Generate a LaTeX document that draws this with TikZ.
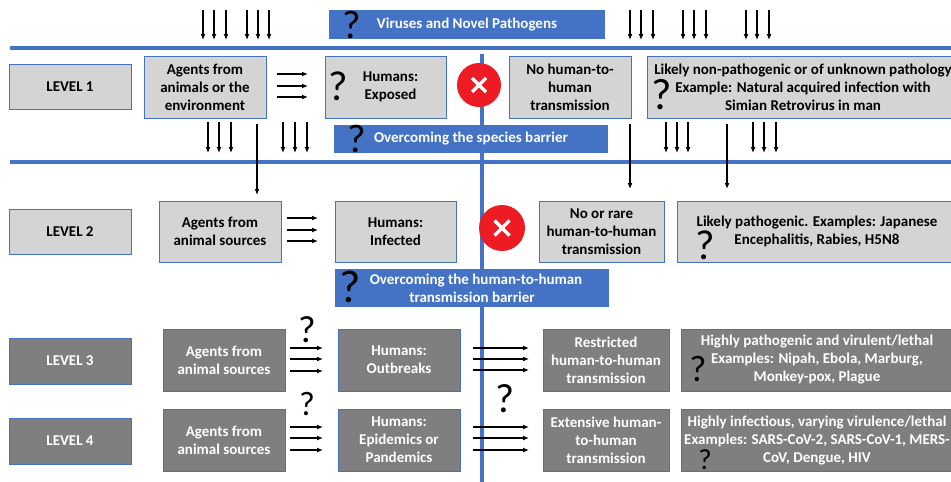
\documentclass[tikz,border=0pt]{standalone}
\usepackage{fontspec}
\setmainfont{Carlito}
\usetikzlibrary{arrows.meta}
\definecolor{bl}{HTML}{4472C4}
\definecolor{lg}{HTML}{D4D4D4}
\definecolor{dg}{HTML}{7F7F7F}
\definecolor{rd}{HTML}{ED1C24}
\begin{document}
\begin{tikzpicture}[x=1pt,y=-1pt,
  box/.style={draw=bl, line width=0.8pt, inner sep=0pt, align=center,
    font=\bfseries\fontsize{15}{18}\selectfont},
  lbox/.style={box, fill=lg, text=black},
  dbox/.style={box, fill=dg, text=white},
  bbox/.style={fill=bl, inner sep=0pt, align=center, text=white,
    font=\bfseries\fontsize{15}{18}\selectfont},
  qm/.style={inner sep=0pt, text=black, font=\fontsize{#1}{#1}\selectfont},
  arr/.style={-{Latex[length=6pt,width=5pt]}, line width=1.3pt},
  band/.style={draw=bl, line width=4pt},
  nox/.style={circle, fill=rd, minimum size=#1, inner sep=0pt},
  xline/.style={draw=white, line width=3.5pt}]
\clip (0,0) rectangle (951,482);
\fill[white] (0,0) rectangle (951,482);
% bands
\coordinate (b1l) at (10,47.5); \coordinate (b1r) at (960,47.5);
\coordinate (b2l) at (10,162); \coordinate (b2r) at (960,162);
\coordinate (vt) at (482,54); \coordinate (vb) at (482,490);
\draw[band] (b1l) -- (b1r);
\draw[band] (b2l) -- (b2r);
\draw[draw=bl, line width=3.5pt] (vt) -- (vb);
% header boxes
\node[bbox, minimum width=276, minimum height=29] (V) at (467,24.5) {Viruses and Novel Pathogens};
\node[qm=40] (qV) at (352,24.5) {?};
\node[bbox, minimum width=274, minimum height=28] (S) at (471,139) {Overcoming the species barrier};
\node[qm=40] (qS) at (357,139) {?};
\node[bbox, minimum width=274, minimum height=38] (T) at (472,288) {\hspace*{8pt}Overcoming the human-to-human\\transmission barrier};
\node[qm=46] (qT) at (350,287) {?};
% level labels
\node[lbox, minimum width=122, minimum height=45] (L1) at (70,86.5) {LEVEL 1};
\node[lbox, minimum width=122, minimum height=45] (L2) at (70,231.5) {LEVEL 2};
\node[dbox, minimum width=122, minimum height=46] (L3) at (70,361) {LEVEL 3};
\node[dbox, minimum width=122, minimum height=46] (L4) at (70,441) {LEVEL 4};
% level 1
\node[lbox, minimum width=122, minimum height=62] (A1) at (205,87) {Agents from\\animals or the\\environment};
\node[lbox, minimum width=121, minimum height=62] (H1) at (385.5,87) {\hspace*{10pt}Humans:\\\hspace*{10pt}Exposed};
\node[qm=42] (qH1) at (338,86) {?};
\node[lbox, minimum width=122, minimum height=62] (N1) at (570,87) {No human-to-\\human\\transmission};
\node[lbox, minimum width=312, minimum height=62] (R1) at (803,87) {Likely non-pathogenic or of unknown pathology\\Example: Natural acquired infection with\\Simian Retrovirus in man};
\node[qm=44] (qR1) at (662,94.5) {?};
% level 2
\node[lbox, minimum width=122, minimum height=61] (A2) at (220,231.5) {Agents from\\animal sources};
\node[lbox, minimum width=121, minimum height=61] (H2) at (395.5,231.5) {Humans:\\Infected};
\node[lbox, minimum width=125, minimum height=61] (N2) at (601.5,231.5) {No or rare\\human-to-human\\transmission};
\node[lbox, minimum width=280, minimum height=61] (R2) at (817,231.5) {Likely pathogenic. Examples: Japanese\\Encephalitis, Rabies, H5N8};
\node[qm=42] (qR2) at (705,245) {?};
% level 3
\node[dbox, minimum width=122, minimum height=62] (A3) at (224,360) {Agents from\\animal sources};
\node[dbox, minimum width=122, minimum height=62] (H3) at (399,360) {Humans:\\Outbreaks};
\node[dbox, minimum width=126, minimum height=62] (N3) at (606,360) {Restricted\\human-to-human\\transmission};
\node[dbox, minimum width=272, minimum height=62] (R3) at (817,360) {Highly pathogenic and virulent/lethal\\Examples: Nipah, Ebola, Marburg,\\Monkey-pox, Plague};
\node[qm=37] (qR3) at (698,369) {?};
\node[qm=38] (qA3) at (307,329.5) {?};
% level 4
\node[dbox, minimum width=122, minimum height=62] (A4) at (224,440) {Agents from\\animal sources};
\node[dbox, minimum width=122, minimum height=62] (H4) at (399,440) {Humans:\\Epidemics or\\Pandemics};
\node[dbox, minimum width=126, minimum height=62] (N4) at (606,440) {Extensive human-\\to-human\\transmission};
\node[dbox, minimum width=272, minimum height=62] (R4) at (817,440) {Highly infectious, varying virulence/lethal\\Examples: SARS-CoV-2, SARS-CoV-1, MERS-\\CoV, Dengue, HIV};
\node[qm=29] (qR4) at (705,459.5) {?};
\node[qm=34] (qA4) at (307,404) {?};
\node[qm=41] (qM) at (505,398.5) {?};
% red crosses
\node[nox=44] (X1) at (479,85) {};
\draw[xline] ([shift={(-7,-7)}]X1.center) -- ([shift={(7,7)}]X1.center);
\draw[xline] ([shift={(-7,7)}]X1.center) -- ([shift={(7,-7)}]X1.center);
\node[nox=46] (X2) at (502,228) {};
\draw[xline] ([shift={(-7.5,-7.5)}]X2.center) -- ([shift={(7.5,7.5)}]X2.center);
\draw[xline] ([shift={(-7.5,7.5)}]X2.center) -- ([shift={(7.5,-7.5)}]X2.center);
% top arrows
\foreach \x in {203,214,226,247,258,269,630,641,653,683,694,706,746,757,769}
  \draw[arr] (\x,10) -- (\x,40);
% arrows below level 1
\foreach \x in {208,219,231,283,295,307,666,677,688,753,764,776}
  \draw[arr] (\x,122) -- (\x,153);
\coordinate (d1) at (257,124); \coordinate (e1) at (257,195);
\coordinate (d2) at (630,124); \coordinate (e2) at (630,189);
\coordinate (d3) at (727,124); \coordinate (e3) at (727,189);
\draw[arr] (d1) -- (e1);
\draw[arr] (d2) -- (e2);
\draw[arr] (d3) -- (e3);
% horizontal triple arrows
\foreach \y in {74,86,97} \draw[arr] (277,\y) -- (308,\y);
\foreach \y in {218,230,241} \draw[arr] (287,\y) -- (318,\y);
\foreach \y in {348,359,371} \draw[arr] (290,\y) -- (323,\y);
\foreach \y in {348,359,370} \draw[arr] (473,\y) -- (529,\y);
\foreach \y in {427,438,450} \draw[arr] (290,\y) -- (323,\y);
\foreach \y in {427,438,450} \draw[arr] (473,\y) -- (529,\y);
\end{tikzpicture}
\end{document}
